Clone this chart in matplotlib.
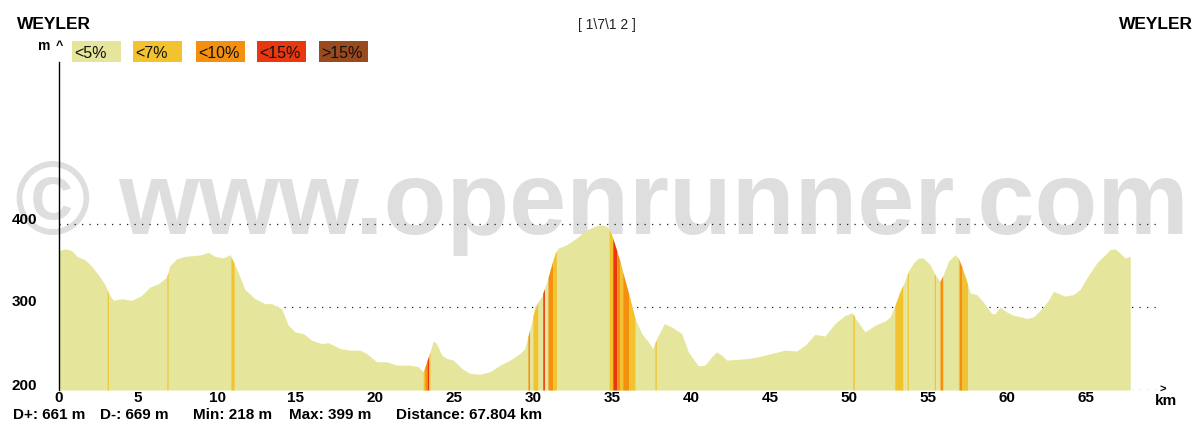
import numpy as np
import matplotlib
matplotlib.use("Agg")
import matplotlib.pyplot as plt
import matplotlib.patches as patches
from matplotlib.transforms import ScaledTranslation

# ===============================
# Data
# ===============================
dist_km = [0.00, 0.38, 0.80, 1.12, 1.65, 2.07, 2.49, 2.91, 3.12, 3.44, 3.97, 4.60,
           5.23, 5.76, 6.29, 6.81, 7.02, 7.45, 7.97, 8.61, 9.03, 9.45, 9.87, 10.40,
           10.82, 11.03, 11.35, 11.77, 12.41, 13.04, 13.46, 14.09, 14.51, 14.94, 15.46,
           15.99, 16.62, 17.05, 17.47, 17.78, 18.42, 19.05, 19.47, 20.11, 20.74, 21.37,
           22.21, 22.74, 23.06, 23.27, 23.48, 23.69, 23.90, 24.22, 24.54, 24.96, 25.49,
           26.01, 26.65, 27.28, 27.92, 28.55, 29.18, 29.49, 29.70, 29.92, 30.10, 30.55,
           30.87, 31.18, 31.39, 31.60, 32.13, 32.76, 33.40, 34.03, 34.40, 34.66, 34.87,
           35.19, 35.50, 35.82, 36.14, 36.46, 36.88, 37.30, 37.57, 37.83, 38.31, 38.78,
           39.41, 39.83, 40.46, 40.89, 41.31, 41.62, 41.94, 42.26, 42.99, 43.63, 44.26,
           45.11, 45.95, 46.69, 47.22, 47.85, 48.48, 49.11, 49.75, 50.21, 50.42, 51.01,
           51.65, 52.28, 52.60, 52.91, 53.23, 53.48, 53.76, 54.07, 54.39, 54.70, 55.13,
           55.44, 55.76, 55.97, 56.29, 56.71, 56.92, 57.13, 57.45, 57.66, 58.08, 58.50,
           59.03, 59.24, 59.56, 59.98, 60.40, 60.93, 61.25, 61.67, 62.20, 62.62, 62.94,
           63.67, 64.20, 64.62, 65.05, 65.68, 66.10, 66.52, 66.84, 67.15, 67.47, 67.80]
elev_m = [368, 370, 368, 361, 357, 349, 339, 327, 317, 308, 310, 308,
          314, 324, 328, 336, 350, 358, 361, 362, 363, 366, 361, 359,
          363, 355, 341, 321, 310, 304, 304, 298, 278, 270, 268,
          260, 256, 257, 253, 250, 248, 248, 244, 234, 234, 230,
          230, 228, 222, 234, 246, 259, 256, 242, 238, 236, 226,
          220, 219, 222, 230, 236, 244, 250, 266, 282, 300, 313,
          330, 351, 365, 371, 375, 383, 393, 398, 399, 397, 393,
          375, 355, 332, 310, 286, 268, 258, 250, 262, 280, 276,
          268, 246, 229, 230, 240, 246, 242, 236, 237, 238, 240,
          244, 248, 247, 254, 267, 265, 280, 290, 293, 286, 270,
          278, 283, 288, 302, 320, 329, 343, 353, 359, 359, 351,
          339, 331, 339, 355, 363, 359, 349, 331, 317, 315, 306,
          292, 292, 300, 294, 290, 288, 286, 288, 298, 308, 319,
          313, 315, 321, 335, 353, 361, 369, 370, 365, 359, 361]

# steep sections: start km, end km, grade class
grade_start = [3.05, 6.83, 10.88, 23.05, 23.15, 23.30, 23.40, 29.68, 30.00, 30.62,
               30.95, 31.25, 34.82, 35.05, 35.30, 35.50, 35.68, 36.05, 37.72, 50.25,
               52.90, 53.68, 55.40, 55.76, 56.92, 56.98, 57.15]
grade_end = [3.12, 6.90, 11.08, 23.15, 23.30, 23.40, 23.48, 29.78, 30.30, 30.72,
             31.25, 31.48, 35.05, 35.30, 35.50, 35.68, 36.05, 36.45, 37.80, 50.33,
             53.40, 53.75, 55.47, 55.93, 56.98, 57.15, 57.50]
grade_class = ["<7%", "<7%", "<7%", "<7%", "<10%", "<15%", "<7%", "<10%", "<7%", "<15%",
               "<10%", "<7%", "<7%", "<15%", "<10%", "<7%", "<10%", "<7%", "<7%", "<7%",
               "<7%", "<7%", "<7%", "<10%", "<7%", "<10%", "<7%"]

legend_labels = ["<5%", "<7%", "<10%", "<15%", ">15%"]
legend_colors = ["#e5e59b", "#f3c22f", "#f4900e", "#e9380f", "#994a1e"]

x_ticks = list(range(0, 70, 5))
y_ticks = [200, 300, 400]

stats = ["D+: 661 m", "D-: 669 m", "Min: 218 m", "Max: 399 m", "Distance: 67.804 km"]
place = "WEYLER"
date_text = "[ 1\\7\\1 2 ]"

# ===============================
# Figure setup (pixel helpers)
# ===============================
W, H = 1197, 421
plt.rcParams['font.family'] = ['Liberation Sans', 'DejaVu Sans']

fig = plt.figure(figsize=(W / 100, H / 100), dpi=100)
fig.patch.set_facecolor("white")


def fx(px):
    return px / W


def fy(py):
    return 1 - py / H


ax = fig.add_axes([fx(59), fy(390), (1165 - 59) / W, (390 - 62) / H])
ax.set_facecolor("none")
ax.set_xlim(0, 70)
ax.set_ylim(200, 200 + 328 / 0.83)

# watermark behind everything
fig.text(fx(602), fy(234), "\u00a9 www.openrunner.com", ha="center", va="baseline",
         fontsize=74, fontweight="bold", color="#dedede", zorder=-1)

# ===============================
# Profile
# ===============================
color_of = dict(zip(legend_labels, legend_colors))
ax.fill_between(dist_km, 200, elev_m, color=legend_colors[0], linewidth=0, zorder=2)

for a, b, c in zip(grade_start, grade_end, grade_class):
    xs = [a, b]
    ys = np.interp(xs, dist_km, elev_m)
    ax.fill_between(xs, 200, ys, color=color_of[c], linewidth=0, zorder=3)

# dotted guide lines
dots = (0, (1, 5))
ax.hlines([300, 400], 0, 69.6, colors="#222222", linestyles=dots, linewidth=0.9, zorder=1)
ax.hlines(200, dist_km[-1] + 0.1, 69.6, colors="#222222", linestyles=dots, linewidth=0.9, zorder=1)
ax.text(69.85, 200.5, ">", ha="center", va="center", fontsize=8, fontweight="bold")

# axes look
for s in ["top", "right", "bottom"]:
    ax.spines[s].set_visible(False)
ax.spines["left"].set_color("black")
ax.spines["left"].set_linewidth(1.0)
ax.spines["left"].set_zorder(5)

ax.set_xticks(x_ticks)
ax.set_xticklabels([str(t) for t in x_ticks], fontsize=11, fontweight="bold")
ax.set_yticks(y_ticks)
ax.set_yticklabels([str(t) for t in y_ticks], fontsize=11, fontweight="bold")
ax.tick_params(axis="both", length=0)
ax.tick_params(axis="x", pad=1)
ax.tick_params(axis="y", pad=16)
for lab in ax.get_yticklabels():
    lab.set_transform(lab.get_transform() + ScaledTranslation(0, 6 / 100, fig.dpi_scale_trans))

# ===============================
# Header, legend, footer
# ===============================
fig.text(fx(17), fy(29), place, ha="left", va="baseline", fontsize=12.5, fontweight="bold")
fig.text(fx(1193), fy(29), place, ha="right", va="baseline", fontsize=12.5, fontweight="bold")
fig.text(fx(607), fy(29), date_text, ha="center", va="baseline", fontsize=10, color="#222222")

fig.text(fx(44), fy(50), "m", ha="center", va="baseline", fontsize=10, fontweight="bold")
fig.text(fx(59), fy(49), "^", ha="center", va="baseline", fontsize=9, fontweight="bold")
fig.text(fx(1166), fy(405), "km", ha="center", va="baseline", fontsize=11, fontweight="bold")

box_x = [72, 133, 196, 257, 319]
for x0, lab, col in zip(box_x, legend_labels, legend_colors):
    fig.patches.append(patches.Rectangle((fx(x0), fy(62)), 49 / W, 21 / H, transform=fig.transFigure,
                                         facecolor=col, edgecolor="none"))
    fig.text(fx(x0 + 2), fy(58), lab, ha="left", va="baseline", fontsize=11.5, color="#111111")

stat_x = [13, 100, 193, 289, 396]
for x0, s in zip(stat_x, stats):
    fig.text(fx(x0), fy(419), s, ha="left", va="baseline", fontsize=11, fontweight="bold")

fig.savefig("out.png", dpi=100)
